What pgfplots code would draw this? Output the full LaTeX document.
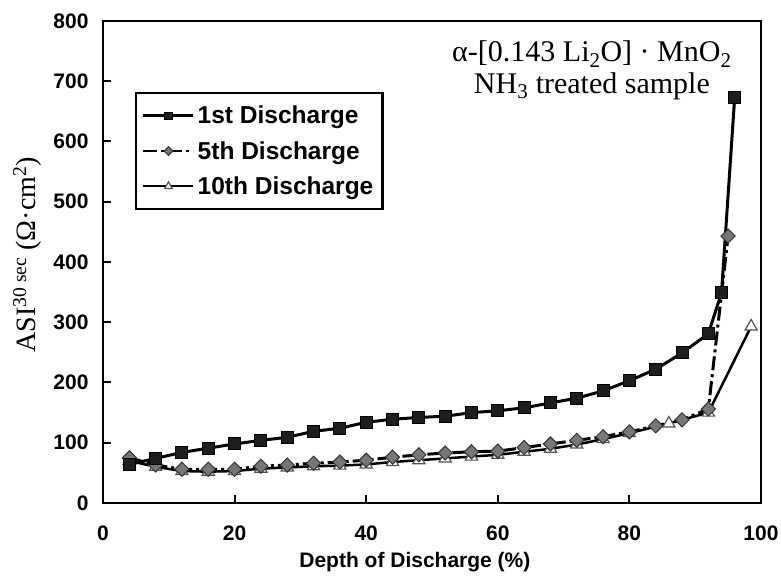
\documentclass[border=0pt]{standalone}
\usepackage{fontspec}
\setmainfont{Liberation Serif}
\newfontfamily\arialfont{Liberation Sans}
\usepackage{pgfplots}
\pgfplotsset{compat=1.18}
\usetikzlibrary{calc}

\definecolor{sqfill}{HTML}{1E1E1E}
\definecolor{dmfill}{HTML}{777777}
\definecolor{dmline}{HTML}{333333}
\definecolor{trline}{HTML}{555555}

\newcommand{\tickfont}{\arialfont\bfseries\fontsize{21}{21}\selectfont}
% longer legend line, smaller legend marks
\pgfplotsset{longlegend/.style={legend image code/.code={%
    \draw[##1, line width=2.5pt] (0pt,0pt) -- (50pt,0pt);
    \draw[##1, draw=none, every mark/.append style={scale=0.62}] plot coordinates {(25pt,0pt)};
}}}

\begin{document}
\begin{tikzpicture}
\begin{axis}[
    name=ax,
    scale only axis,
    width=658pt, height=482pt,
    xmin=0, xmax=100,
    ymin=0, ymax=800,
    xtick={0,20,...,100},
    ytick={0,100,...,800},
    tick align=inside,
    tick pos=left,
    major tick length=8pt,
    every tick/.style={black, line width=2pt},
    axis line style={line width=2.5pt},
    /pgf/number format/assume math mode=true,
    ticklabel style={font=\tickfont},
    yticklabel style={xshift=-11pt},
    xticklabel style={yshift=-19pt},
    xlabel={Depth of Discharge (\%)},
    xlabel style={font=\tickfont, at={(axis description cs:0.474,-0.122)}, anchor=center},
    ylabel={ASI\textsuperscript{30 sec} (Ω·cm\textsuperscript{2})},
    ylabel style={font=\fontsize{28}{28}\selectfont, at={(axis description cs:-0.1155,0.515)}, anchor=center},
    clip=false,
    legend reversed,
    legend cell align=left,
    legend style={
        at={(axis description cs:0.0486,0.853)}, anchor=north west,
        draw=black, line width=2.5pt,
        font=\arialfont\bfseries\fontsize{24.5}{24.5}\selectfont,
        row sep=10pt,
        inner xsep=6pt, inner ysep=10pt,
        nodes={inner sep=3pt},
    },
]
% 10th discharge
\addplot[black, line width=2.5pt, mark=triangle*, mark size=7pt,
    mark options={solid, fill=white, draw=trline, line width=1.2pt}, longlegend]
coordinates {(4,70) (8,60) (12,53) (16,52) (20,53) (24,57) (28,59) (32,61) (36,62) (40,64) (44,68) (48,71) (52,74) (56,77) (60,80) (64,85) (68,90) (72,97) (76,106) (80,116) (86,132) (92,150) (98.5,293)};
\addlegendentry{10th Discharge}
% 5th discharge
\addplot[black, line width=3pt, dash pattern=on 14pt off 4pt on 3pt off 4pt, mark=square*, mark size=5pt,
    mark options={solid, rotate=45, fill=dmfill, draw=dmline, line width=1pt}, longlegend]
coordinates {(4,75) (8,63) (12,56) (16,56) (20,56) (24,61) (28,63) (32,66) (36,68) (40,71) (44,76) (48,80) (52,83) (56,85) (60,86) (64,92) (68,98) (72,104) (76,110) (80,118) (84,128) (88,138) (92,156) (95,443)};
\addlegendentry{5th Discharge}
% 1st discharge
\addplot[black, line width=3pt, mark=square*, mark size=6pt,
    mark options={solid, fill=sqfill, draw=black, line width=1pt}, longlegend]
coordinates {(4,64) (8,74) (12,84) (16,91) (20,98) (24,104) (28,109) (32,119) (36,124) (40,134) (44,139) (48,142) (52,144) (56,150) (60,153) (64,158) (68,166) (72,174) (76,186) (80,203) (84,222) (88,249) (92,281) (94,349) (96,673)};
\addlegendentry{1st Discharge}
\node[align=center, font=\fontsize{30}{31.5}\selectfont] at (axis cs:74.3,718)
    {α-[0.143 Li\textsubscript{2}O] · MnO\textsubscript{2}\\NH\textsubscript{3} treated sample};
\end{axis}
\pgfresetboundingbox
\path[use as bounding box] ($(ax.south west)+(-103pt,-74pt)$) rectangle ($(ax.north east)+(20pt,21pt)$);
\end{tikzpicture}
\end{document}
